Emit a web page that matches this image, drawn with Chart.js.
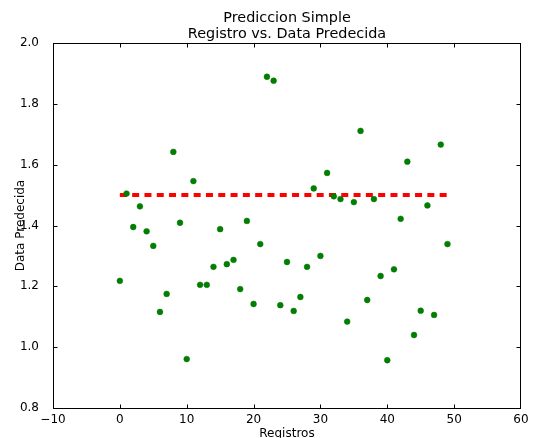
<!DOCTYPE html>
<html>
<head>
<meta charset="utf-8">
<title>Prediccion Simple</title>
<script src="https://cdn.jsdelivr.net/npm/chart.js@4/dist/chart.umd.min.js"></script>
<style>
  html, body { margin: 0; padding: 0; background: #fff; }
  canvas { display: block; }
</style>
</head>
<body>
<canvas id="prediccionChart" width="534" height="438"></canvas>
<script>
// Datos
const registros = [0, 1, 2, 3, 4, 5, 6, 7, 8, 9,
    10, 11, 12, 13, 14, 15, 16, 17, 18, 19,
    20, 21, 22, 23, 24, 25, 26, 27, 28, 29,
    30, 31, 32, 33, 34, 35, 36, 37, 38, 39,
    40, 41, 42, 43, 44, 45, 46, 47, 48, 49];
const dataPredecida = [1.218, 1.505, 1.395, 1.463, 1.381, 1.333, 1.116, 1.175, 1.642, 1.409,
    0.961, 1.546, 1.205, 1.205, 1.264, 1.388, 1.273, 1.287, 1.191, 1.415,
    1.142, 1.339, 1.889, 1.876, 1.138, 1.280, 1.119, 1.165, 1.264, 1.522,
    1.300, 1.573, 1.496, 1.487, 1.084, 1.477, 1.711, 1.155, 1.487, 1.234,
    0.957, 1.256, 1.422, 1.610, 1.040, 1.120, 1.466, 1.106, 1.666, 1.339];
const prediccionX = [0, 49];
const prediccionY = [1.5, 1.5];

const xTicks = [-10, 0, 10, 20, 30, 40, 50, 60];
const yTicks = [0.8, 1.0, 1.2, 1.4, 1.6, 1.8, 2.0];

const fontFamily = "'DejaVu Sans', sans-serif";

// Marco, marcas hacia dentro y textos al estilo matplotlib
const marcoPlugin = {
    id: 'marco',
    afterDraw(chart) {
        const { ctx, chartArea: a, scales } = chart;
        const l = a.left + 0.5, r = a.right - 0.5, t = a.top + 0.5, b = a.bottom + 0.5;
        ctx.save();
        ctx.strokeStyle = '#000';
        ctx.lineWidth = 1;
        ctx.beginPath();
        scales.x.ticks.forEach(tk => {
            let px = Math.round(scales.x.getPixelForValue(tk.value)) + 0.5;
            px = Math.min(Math.max(px, l), r);
            ctx.moveTo(px, b); ctx.lineTo(px, b - 4);
            ctx.moveTo(px, t); ctx.lineTo(px, t + 4);
        });
        scales.y.ticks.forEach(tk => {
            let py = Math.round(scales.y.getPixelForValue(tk.value)) + 0.5;
            py = Math.min(Math.max(py, t), b);
            ctx.moveTo(l, py); ctx.lineTo(l + 4, py);
            ctx.moveTo(r, py); ctx.lineTo(r - 4, py);
        });
        ctx.stroke();
        ctx.strokeRect(l, t, r - l, b - t);

        const cx = (a.left + a.right) / 2;
        ctx.fillStyle = '#000';
        ctx.textAlign = 'center';
        ctx.textBaseline = 'alphabetic';
        ctx.font = '14.4px ' + fontFamily;
        ctx.fillText('Prediccion Simple', cx, 21.5);
        ctx.fillText('Registro vs. Data Predecida', cx, 37.5);

        ctx.font = '12px ' + fontFamily;
        ctx.fillText('Registros', cx, 437);

        ctx.translate(23.5, (a.top + a.bottom) / 2);
        ctx.rotate(-Math.PI / 2);
        ctx.fillText('Data Predecida', 0, 0);
        ctx.restore();
    }
};

Chart.defaults.font.family = fontFamily;
Chart.defaults.font.size = 12;
Chart.defaults.color = '#000';

const ctx = document.getElementById('prediccionChart').getContext('2d');
new Chart(ctx, {
    type: 'scatter',
    data: {
        datasets: [{
            label: 'Data Predecida',
            data: registros.map((x, i) => ({ x, y: dataPredecida[i] })),
            backgroundColor: '#008000',
            borderColor: '#007000',
            borderWidth: 0.5,
            pointRadius: 2.9,
            order: 0
        }, {
            type: 'line',
            label: 'Prediccion',
            data: prediccionX.map((x, i) => ({ x, y: prediccionY[i] })),
            borderColor: '#ff0000',
            borderWidth: 4,
            borderDash: [7, 5.3],
            pointRadius: 0,
            fill: false,
            order: 1
        }]
    },
    options: {
        responsive: false,
        animation: false,
        devicePixelRatio: 1,
        layout: { padding: { top: 43, right: 13, left: 0, bottom: 0 } },
        plugins: {
            legend: { display: false },
            tooltip: { enabled: false },
            title: { display: false }
        },
        scales: {
            x: {
                type: 'linear',
                min: -10,
                max: 60,
                grid: { display: false },
                border: { display: false },
                afterBuildTicks: s => { s.ticks = xTicks.map(v => ({ value: v })); },
                afterFit: s => { s.height = 30; },
                ticks: {
                    padding: -3,
                    maxRotation: 0,
                    callback: v => (v < 0 ? '\u2212' + Math.abs(v) : String(v))
                }
            },
            y: {
                type: 'linear',
                min: 0.8,
                max: 2.0,
                grid: { display: false },
                border: { display: false },
                afterBuildTicks: s => { s.ticks = yTicks.map(v => ({ value: v })); },
                afterFit: s => { s.width = 53; },
                ticks: {
                    padding: 6,
                    callback: v => Number(v).toFixed(1)
                }
            }
        }
    },
    plugins: [marcoPlugin]
});
</script>
</body>
</html>
